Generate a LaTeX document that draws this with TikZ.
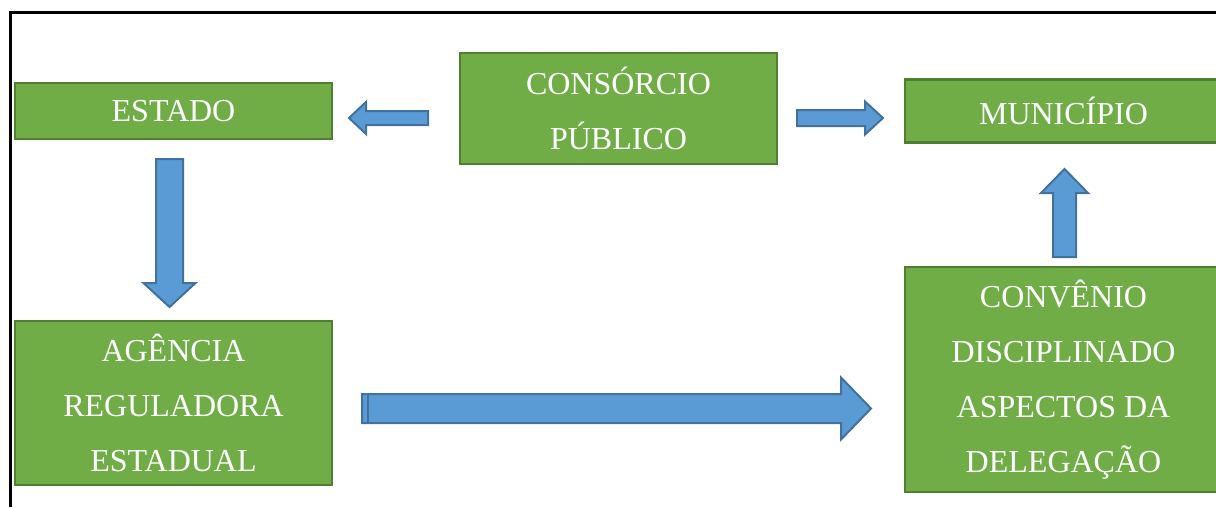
\documentclass[tikz,border=0pt]{standalone}
\usepackage{fontspec}
\setmainfont{Liberation Serif}
\usetikzlibrary{calc}

\definecolor{boxgreen}{HTML}{70AD47}
\definecolor{boxgreenline}{HTML}{507E32}
\definecolor{arrowblue}{HTML}{5B9BD5}
\definecolor{arrowblueline}{HTML}{41719C}

% block arrow: from, to, half shaft, half head, head length
\newcommand{\blockarrow}[5]{%
	\path ($(#2)!#5!(#1)$) coordinate (hb);
	\filldraw[bluearrow] ($(#1)!#3!90:(#2)$) -- ($(hb)!#3!90:(#2)$) -- ($(hb)!#4!90:(#2)$) -- (#2)
		-- ($(hb)!#4!-90:(#2)$) -- ($(hb)!#3!-90:(#2)$) -- ($(#1)!#3!-90:(#2)$) -- cycle;
}

\begin{document}
\begin{tikzpicture}[x=1pt, y=-1pt,
	greenbox/.style={draw=boxgreenline, fill=boxgreen, line width=2.5pt, text=white, align=center,
		minimum width=317pt, inner sep=0pt, font=\fontsize{32}{55}\selectfont},
	bluearrow/.style={draw=arrowblueline, fill=arrowblue, line width=2pt, line join=miter}]
	\useasboundingbox (0,0) rectangle (1216,507);
	% frame
	\draw [line width=3pt] (10,507) -- (10,12.5) -- (1216,12.5);
	% boxes
	\node[greenbox, minimum height=56pt] (estado) at (173.5,111) {\raisebox{-2pt}{ESTADO}};
	\node[greenbox, minimum height=111pt] (consorcio) at (618.5,108.5) {CONSÓRCIO\\PÚBLICO};
	\node[greenbox, minimum height=63pt] (municipio) at (1063.5,111) {MUNICÍPIO};
	\node[greenbox, minimum height=164pt] (agencia) at (173.5,403) {AGÊNCIA\\REGULADORA\\ESTADUAL};
	\node[greenbox, minimum height=225pt] (convenio) at (1063.5,379.5) {CONVÊNIO\\DISCIPLINADO\\ASPECTOS DA\\DELEGAÇÃO};
	% arrow ends
	\coordinate (cons-l) at (428,118);
	\coordinate (est-r) at (349,118);
	\coordinate (cons-r) at (797,118);
	\coordinate (mun-l) at (883,118);
	\coordinate (est-b) at (169.5,159);
	\coordinate (ag-t) at (169.5,307);
	\coordinate (conv-t) at (1064.5,257);
	\coordinate (mun-b) at (1064.5,169);
	\coordinate (ag-r) at (362,408.5);
	\coordinate (conv-l) at (871,408.5);
	% arrows
	\blockarrow{cons-l}{est-r}{7pt}{16pt}{17pt}
	\blockarrow{cons-r}{mun-l}{8pt}{16.5pt}{18pt}
	\blockarrow{est-b}{ag-t}{13.5pt}{26pt}{24pt}
	\blockarrow{conv-t}{mun-b}{11.5pt}{23.5pt}{24pt}
	\blockarrow{ag-r}{conv-l}{14.5pt}{31pt}{30pt}
	\draw [arrowblueline, line width=2pt] ($(ag-r)+(6,-14.5)$) -- ($(ag-r)+(6,14.5)$);
\end{tikzpicture}
\end{document}
